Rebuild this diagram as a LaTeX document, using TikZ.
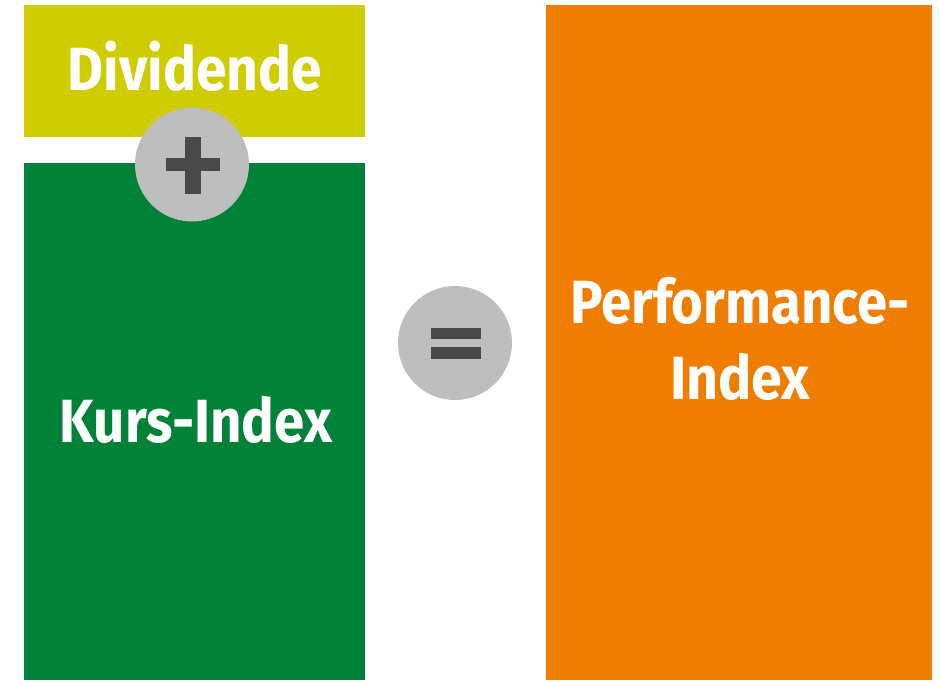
\documentclass[tikz,border=0pt]{standalone}
\usepackage{fontspec}
\setmainfont{Fira Sans}
\usepackage{graphicx}
\definecolor{divcol}{HTML}{CFCC00}
\definecolor{kurscol}{HTML}{028238}
\definecolor{perfcol}{HTML}{EF7D00}
\definecolor{circcol}{HTML}{BEBEBE}
\definecolor{signcol}{HTML}{484848}
\newcommand{\fitw}[2]{\resizebox{#1}{\height}{\fontsize{61}{61}\selectfont\bfseries #2}}
\begin{document}
\begin{tikzpicture}[x=1pt,y=-1pt,
  lbl/.style={text=white,inner sep=0pt,anchor=base},
  opcircle/.style={circle,fill=circcol,minimum size=114pt,inner sep=0pt},
  sign/.style={fill=signcol}]
\useasboundingbox (0,0) rectangle (939,680);
\fill[white] (0,0) rectangle (939,680);
% boxes
\fill[divcol] (24,5) rectangle (365,137);
\fill[kurscol] (24,163) rectangle (365,680);
\fill[perfcol] (546,5) rectangle (932,680);
% labels
\node[lbl] (div) at (195,90) {\fitw{254pt}{Dividende}};
\node[lbl] (kurs) at (196,442) {\fitw{272pt}{Kurs-Index}};
\node[lbl] (perf1) at (740,323) {\fitw{340pt}{Performance-}};
\node[lbl] (perf2) at (740,399) {\fitw{140pt}{Index}};
% operators
\node[opcircle] (plus) at (192,164.5) {};
\fill[sign] (166,158) rectangle (220,171);
\fill[sign] (185,137) rectangle (201,194);
\node[opcircle] (eq) at (455,343) {};
\fill[sign] (431,328) rectangle (481,339);
\fill[sign] (431,347) rectangle (481,359);
\end{tikzpicture}
\end{document}
